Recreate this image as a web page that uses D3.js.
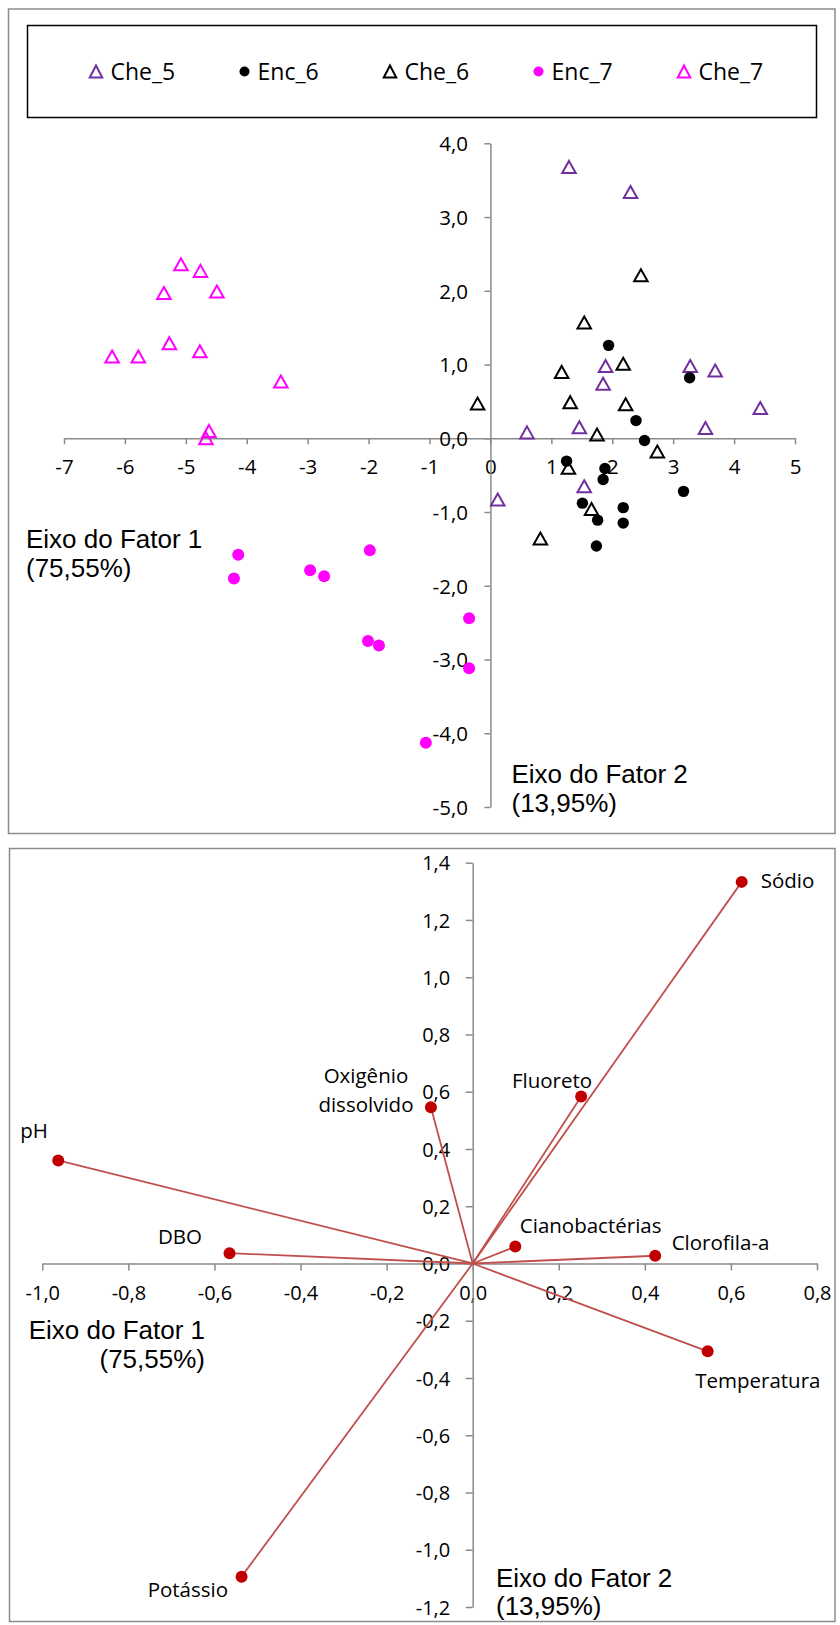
<!DOCTYPE html>
<html>
<head>
<meta charset="utf-8">
<script src="https://cdn.jsdelivr.net/npm/d3@7"></script>
<style>
  html, body { margin: 0; padding: 0; background: #fff; }
  svg { display: block; }
  .tick text { font-family: "Open Sans", sans-serif; fill: #000; }
</style>
</head>
<body>
<svg id="chart" width="840" height="1625"></svg>
<script>
// ---------------- DATA ----------------
// Top chart: scores (Fator 1, Fator 2)
const seriesNames = ["Che_5", "Enc_6", "Che_6", "Enc_7", "Che_7"];
const che5 = [[1.29,3.68],[2.30,3.34],[1.89,0.98],[1.85,0.74],[3.28,0.98],[3.69,0.92],[4.43,0.41],[3.53,0.14],[1.46,0.15],[0.60,0.08],[1.54,-0.65],[0.12,-0.83]];
const enc6 = [[1.94,1.26],[3.27,0.82],[2.39,0.24],[2.53,-0.03],[1.25,-0.31],[1.88,-0.41],[1.85,-0.56],[3.17,-0.72],[1.51,-0.88],[2.18,-0.94],[1.76,-1.11],[2.18,-1.15],[1.74,-1.46]];
const che6 = [[2.47,2.21],[1.54,1.57],[1.17,0.90],[2.18,1.01],[1.31,0.49],[2.22,0.46],[-0.21,0.47],[1.75,0.05],[2.74,-0.18],[1.28,-0.40],[1.66,-0.96],[0.82,-1.36]];
const enc7 = [[-4.14,-1.58],[-4.21,-1.90],[-2.96,-1.79],[-2.73,-1.87],[-1.98,-1.52],[-2.01,-2.75],[-1.83,-2.81],[-0.35,-2.44],[-0.35,-3.12],[-1.06,-4.13]];
const che7 = [[-5.08,2.36],[-4.76,2.27],[-5.36,1.97],[-4.49,1.99],[-5.27,1.29],[-4.77,1.18],[-6.21,1.11],[-5.78,1.11],[-3.44,0.77],[-4.62,0.10],[-4.67,0.00]];
const topXTicks = [-7,-6,-5,-4,-3,-2,-1,0,1,2,3,4,5];
const topYTicks = [4,3,2,1,0,-1,-2,-3,-4,-5];

// Bottom chart: loadings
const variables = ["Sódio","Fluoreto","Oxigênio dissolvido","pH","DBO","Potássio","Cianobactérias","Clorofila-a","Temperatura"];
const fator1 = [0.625, 0.252, -0.097, -0.963, -0.565, -0.537, 0.099, 0.424, 0.546];
const fator2 = [1.333, 0.583, 0.546, 0.360, 0.036, -1.094, 0.059, 0.027, -0.307];
const botXTicks = [-1.0,-0.8,-0.6,-0.4,-0.2,0.0,0.2,0.4,0.6,0.8];
const botYTicks = [1.4,1.2,1.0,0.8,0.6,0.4,0.2,0.0,-0.2,-0.4,-0.6,-0.8,-1.0,-1.2];

const axisTitle1 = ["Eixo do Fator 1", "(75,55%)"];
const axisTitle2 = ["Eixo do Fator 2", "(13,95%)"];

// ---------------- STYLE / LAYOUT ----------------
const AXIS_COLOR = "#8a8a8a";
const PANEL_COLOR = "#8c8c8c";
const PURPLE = "#7030A0", MAGENTA = "#FF00FF", BLACK = "#000000";
const LINE_RED = "#C0504D", DOT_RED = "#C00000";
const TICK_FONT = '"Open Sans", sans-serif';
const TITLE_FONT = '"Liberation Sans", Arial, sans-serif';

const svg = d3.select("#chart");
const fmtComma1 = d => d3.format(".1f")(d).replace(".", ",").replace("−", "-");
const fmtInt = d => String(d);

// panels
svg.append("rect").attr("x", 8.5).attr("y", 9).attr("width", 826.5).attr("height", 824.5)
  .attr("fill", "none").attr("stroke", PANEL_COLOR).attr("stroke-width", 1.5);
svg.append("rect").attr("x", 9.5).attr("y", 848.5).attr("width", 825.5).attr("height", 773)
  .attr("fill", "none").attr("stroke", PANEL_COLOR).attr("stroke-width", 1.5);

function triPath(w, h) {
  return `M0,${-h/2}L${w/2},${h/2}L${-w/2},${h/2}Z`;
}

// ================= TOP CHART =================
const x1 = d3.scaleLinear().domain([-7, 5]).range([64, 795]);
const y1 = d3.scaleLinear().domain([-5, 4]).range([807, 143.3]);
const topG = svg.append("g");

const xAx1 = topG.append("g").attr("transform", `translate(0,${y1(0)})`)
  .call(d3.axisBottom(x1).tickValues(topXTicks).tickFormat(fmtInt).tickSize(6).tickSizeOuter(0));
const yAx1 = topG.append("g").attr("transform", `translate(${x1(0)},0)`)
  .call(d3.axisLeft(y1).tickValues(topYTicks).tickFormat(fmtComma1).tickSize(6).tickSizeOuter(0));

[xAx1, yAx1].forEach(g => {
  g.selectAll("path.domain").attr("stroke", AXIS_COLOR).attr("stroke-width", 1.5);
  g.selectAll(".tick line").attr("stroke", AXIS_COLOR).attr("stroke-width", 1.5);
  g.selectAll(".tick text").style("font-size", "20.5px").style("font-family", TICK_FONT).attr("fill", "#000");
});
xAx1.selectAll(".tick text").attr("y", 35.5).attr("dy", 0);
yAx1.selectAll(".tick text").attr("x", -22.5).attr("dy", "0.36em");

function title(g, lines, x, ys, anchor) {
  lines.forEach((t, i) => {
    g.append("text").attr("x", x).attr("y", ys[i]).attr("text-anchor", anchor || "start")
      .style("font-family", TITLE_FONT).style("font-size", "26px").attr("fill", "#000").text(t);
  });
}
title(topG, axisTitle1, 26, [547.5, 577]);
title(topG, axisTitle2, 511.5, [782.5, 811.5]);

const seriesDefs = [
  {name: seriesNames[0], data: che5, shape: "tri", color: PURPLE},
  {name: seriesNames[1], data: enc6, shape: "dot", color: BLACK},
  {name: seriesNames[2], data: che6, shape: "tri", color: BLACK},
  {name: seriesNames[3], data: enc7, shape: "dot", color: MAGENTA},
  {name: seriesNames[4], data: che7, shape: "tri", color: MAGENTA}
];

seriesDefs.forEach(s => {
  const g = topG.append("g");
  if (s.shape === "tri") {
    g.selectAll("path").data(s.data).join("path")
      .attr("transform", d => `translate(${x1(d[0])},${y1(d[1])})`)
      .attr("d", triPath(13.5, 12))
      .attr("fill", "none").attr("stroke", s.color).attr("stroke-width", 2)
      .attr("stroke-linejoin", "miter");
  } else {
    g.selectAll("circle").data(s.data).join("circle")
      .attr("cx", d => x1(d[0])).attr("cy", d => y1(d[1]))
      .attr("r", s.color === MAGENTA ? 6 : 5.7)
      .attr("fill", s.color);
  }
});

// legend
const legend = svg.append("g");
legend.append("rect").attr("x", 27.5).attr("y", 25.5).attr("width", 789).attr("height", 92)
  .attr("fill", "#fff").attr("stroke", "#000").attr("stroke-width", 1.5);
seriesDefs.forEach((s, i) => {
  const mx = 96 + 147 * i + (s.shape === "dot" ? 1.5 : 0), my = 71.5;
  if (s.shape === "tri") {
    legend.append("path").attr("transform", `translate(${mx},${my})`)
      .attr("d", triPath(12.5, 12)).attr("fill", "none").attr("stroke", s.color).attr("stroke-width", 2);
  } else {
    legend.append("circle").attr("cx", mx).attr("cy", my).attr("r", 5).attr("fill", s.color);
  }
  legend.append("text").attr("x", 96 + 147 * i + 14.5).attr("y", 80)
    .style("font-family", TICK_FONT).style("font-size", "23px").attr("fill", "#000").text(s.name);
});

// ================= BOTTOM CHART =================
const x2 = d3.scaleLinear().domain([-1.0, 0.8]).range([42.3, 817]);
const y2 = d3.scaleLinear().domain([-1.2, 1.4]).range([1607, 862.7]);
const botG = svg.append("g");

const xAx2 = botG.append("g").attr("transform", `translate(0,${y2(0)})`)
  .call(d3.axisBottom(x2).tickValues(botXTicks).tickFormat(fmtComma1).tickSize(7).tickSizeOuter(0));
const yAx2 = botG.append("g").attr("transform", `translate(${x2(0)},0)`)
  .call(d3.axisLeft(y2).tickValues(botYTicks).tickFormat(fmtComma1).tickSize(7).tickSizeOuter(0));
[xAx2, yAx2].forEach(g => {
  g.selectAll("path.domain").attr("stroke", AXIS_COLOR).attr("stroke-width", 1.5);
  g.selectAll(".tick line").attr("stroke", AXIS_COLOR).attr("stroke-width", 1.5);
  g.selectAll(".tick text").style("font-size", "20px").style("font-family", TICK_FONT).attr("fill", "#000");
});
xAx2.selectAll(".tick text").attr("y", 37).attr("dy", 0);
yAx2.selectAll(".tick text").attr("x", -22.5).attr("dy", "0.36em");

title(botG, axisTitle1, 205, [1339, 1368], "end");
title(botG, axisTitle2, 496, [1587, 1615]);

const labelPos = {
  "Sódio":               {dx: 19,  dy: [6],        anchor: "start"},
  "Fluoreto":            {dx: 11,  dy: [-9],       anchor: "end"},
  "Oxigênio dissolvido": {dx: -65, dy: [-24, 4.5], anchor: "middle", lines: ["Oxigênio", "dissolvido"]},
  "pH":                  {dx: -38, dy: [-22],      anchor: "start"},
  "DBO":                 {dx: -27.5, dy: [-9.5],   anchor: "end"},
  "Potássio":            {dx: -13.5, dy: [20],     anchor: "end"},
  "Cianobactérias":      {dx: 4.5, dy: [-13.5],    anchor: "start"},
  "Clorofila-a":         {dx: 16.5, dy: [-5.5],    anchor: "start"},
  "Temperatura":         {dx: -12.5, dy: [36.5],   anchor: "start"}
};

const vecData = variables.map((v, i) => ({name: v, f1: fator1[i], f2: fator2[i]}));

botG.append("g").selectAll("line").data(vecData).join("line")
  .attr("x1", x2(0)).attr("y1", y2(0))
  .attr("x2", d => x2(d.f1)).attr("y2", d => y2(d.f2))
  .attr("stroke", LINE_RED).attr("stroke-width", 1.8);

botG.append("g").selectAll("circle").data(vecData).join("circle")
  .attr("cx", d => x2(d.f1)).attr("cy", d => y2(d.f2)).attr("r", 6)
  .attr("fill", DOT_RED);

vecData.forEach(d => {
  const p = labelPos[d.name];
  const lines = p.lines || [d.name];
  lines.forEach((t, i) => {
    botG.append("text")
      .attr("x", x2(d.f1) + p.dx).attr("y", y2(d.f2) + p.dy[i])
      .attr("text-anchor", p.anchor)
      .style("font-family", TICK_FONT).style("font-size", "20.5px").attr("fill", "#000")
      .text(t);
  });
});
</script>
</body>
</html>
